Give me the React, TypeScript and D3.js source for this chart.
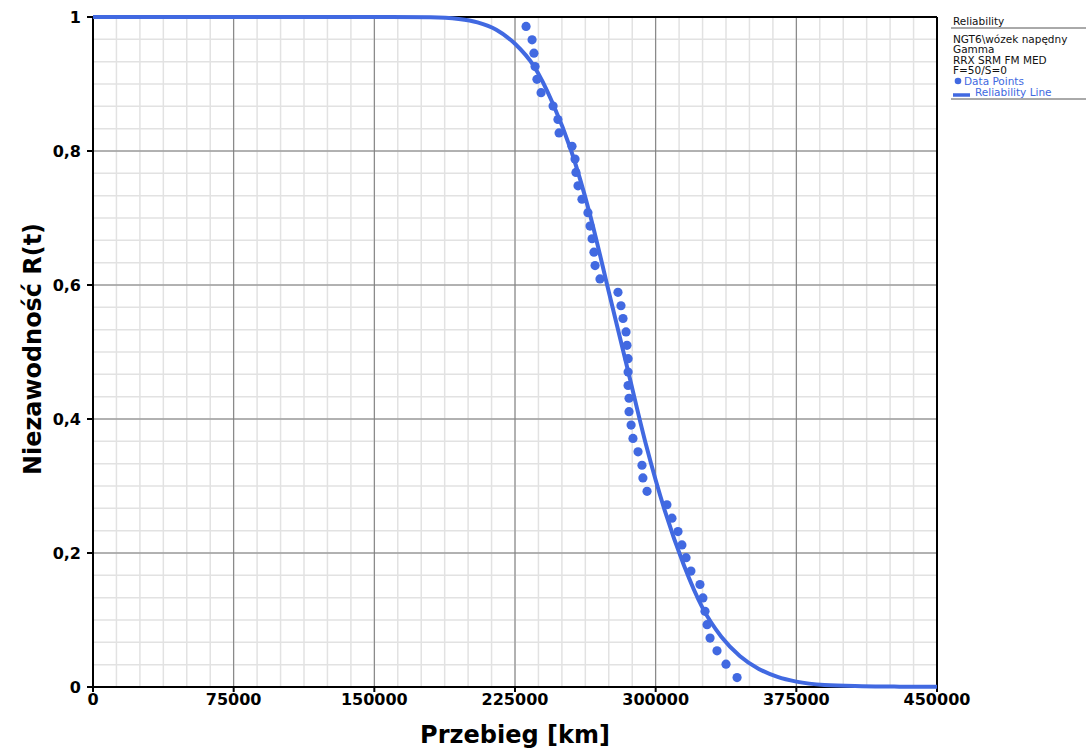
import React from 'react';
import * as d3 from 'd3';

// failure data points (km, median-rank reliability)
const pointKm = [
  230900, 234100, 235100, 235700, 236700, 238900, 245300, 247900, 248500, 255400,
  257000, 257500, 258600, 260700, 263900, 265000, 266100, 267100, 267700, 270300,
  279900, 281500, 282600, 284200, 284700, 285300, 285300, 285300, 285800, 285800,
  286900, 287900, 290600, 292700, 293200, 295400, 306000, 308700, 311900, 314000,
  316200, 318800, 323600, 325200, 326300, 327400, 329000, 332700, 337500, 343400,
];
const pointR = [
  0.986, 0.966, 0.946, 0.926, 0.907, 0.887, 0.867, 0.847, 0.827, 0.807,
  0.788, 0.768, 0.748, 0.728, 0.708, 0.688, 0.669, 0.649, 0.629, 0.609,
  0.589, 0.569, 0.550, 0.530, 0.510, 0.490, 0.470, 0.450, 0.431, 0.411,
  0.391, 0.371, 0.351, 0.331, 0.312, 0.292, 0.272, 0.252, 0.232, 0.212,
  0.193, 0.173, 0.153, 0.133, 0.113, 0.093, 0.073, 0.054, 0.034, 0.014,
];

// fitted reliability line
const lineKm = [
  0, 150000, 180000, 195000, 205000, 215000, 225000, 235000, 245000, 255000,
  265000, 275000, 285000, 295000, 305000, 315000, 325000, 335000, 345000, 355000,
  365000, 375000, 390000, 410000, 430000, 450000,
];
const lineR = [
  1, 1, 0.9995, 0.997, 0.992, 0.981, 0.96, 0.927, 0.872, 0.8,
  0.705, 0.59, 0.475, 0.36, 0.262, 0.182, 0.118, 0.075, 0.046, 0.027,
  0.015, 0.008, 0.003, 0.0012, 0.0005, 0.0002,
];

const xTicks = [0, 75000, 150000, 225000, 300000, 375000, 450000];
const yTicks = [0, 0.2, 0.4, 0.6, 0.8, 1];
const yTickLabels = ['0', '0,2', '0,4', '0,6', '0,8', '1'];
const legendLines = ['NGT6\\wózek napędny', 'Gamma', 'RRX SRM FM MED', 'F=50/S=0'];

const BLUE = '#4169e1';
const FONT = '"DejaVu Sans", Verdana, sans-serif';

export default function App() {
  const W = 1086, H = 749;
  const left = 93, right = 937, top = 17, bottom = 687;
  const x = d3.scaleLinear().domain([0, 450000]).range([left, right]);
  const y = d3.scaleLinear().domain([0, 1]).range([bottom, top]);

  const xMinor = d3.range(0, 450001, 12500);
  const yMinor = d3.range(0, 31).map(i => i / 30);

  const lineData = lineKm.map((k, i) => [k, lineR[i]] as [number, number]);
  const line = d3.line<[number, number]>()
    .x(d => x(d[0]))
    .y(d => y(d[1]))
    .curve(d3.curveMonotoneX);

  return (
    <svg width={W} height={H} style={{ position: 'absolute', left: 0, top: 0, background: '#fff' }}
      fontFamily={FONT}>
      {/* minor grid */}
      {xMinor.map(v => (
        <line key={'xm' + v} x1={x(v)} x2={x(v)} y1={top} y2={bottom} stroke="#e2e2e2" strokeWidth={1.5} />
      ))}
      {yMinor.map(v => (
        <line key={'ym' + v} x1={left} x2={right} y1={y(v)} y2={y(v)} stroke="#e2e2e2" strokeWidth={1.5} />
      ))}
      {/* major grid */}
      {xTicks.map(v => (
        <line key={'xg' + v} x1={x(v)} x2={x(v)} y1={top} y2={bottom} stroke="#7a7a7a" strokeWidth={1} />
      ))}
      {yTicks.map(v => (
        <line key={'yg' + v} x1={left} x2={right} y1={y(v)} y2={y(v)} stroke="#7a7a7a" strokeWidth={1} />
      ))}

      {/* frame */}
      <line x1={left} x2={right} y1={top} y2={top} stroke="#000" strokeWidth={2} />
      <line x1={right} x2={right} y1={top} y2={bottom} stroke="#000" strokeWidth={2} />
      <line x1={left} x2={left} y1={top - 1} y2={bottom + 1} stroke="#000" strokeWidth={2} />
      <line x1={left - 1} x2={right + 1} y1={bottom} y2={bottom} stroke="#000" strokeWidth={2} />

      {/* ticks */}
      {xTicks.map(v => (
        <g key={'xt' + v}>
          <line x1={x(v)} x2={x(v)} y1={bottom} y2={bottom + 5} stroke="#000" strokeWidth={2} />
          <text x={x(v)} y={705} textAnchor="middle" fontSize={16} fontWeight="bold">{v}</text>
        </g>
      ))}
      {yTicks.map((v, i) => (
        <g key={'yt' + v}>
          <line x1={left - 6} x2={left} y1={y(v)} y2={y(v)} stroke="#000" strokeWidth={2} />
          <text x={81} y={y(v) + 6} textAnchor="end" fontSize={16} fontWeight="bold">{yTickLabels[i]}</text>
        </g>
      ))}

      {/* reliability line */}
      <path d={line(lineData) || ''} fill="none" stroke={BLUE} strokeWidth={4} />
      {/* data points */}
      {pointKm.map((k, i) => (
        <circle key={'p' + i} cx={x(k)} cy={y(pointR[i])} r={4.6} fill={BLUE} />
      ))}

      {/* axis titles */}
      <text x={(left + right) / 2} y={743} textAnchor="middle" fontSize={24} fontWeight="bold">Przebieg [km]</text>
      <text transform="translate(41,349) rotate(-90)" textAnchor="middle" fontSize={24} fontWeight="bold"
        textLength={252} lengthAdjust="spacingAndGlyphs">Niezawodność R(t)</text>

      {/* legend */}
      <g fontSize={10.5}>
        <text x={953} y={25} fill="#111">Reliability</text>
        <line x1={951} x2={W} y1={28} y2={28} stroke="#555" strokeWidth={1} />
        {legendLines.map((t, i) => (
          <text key={t} x={953} y={42.5 + i * 10.6} fill="#111">{t}</text>
        ))}
        <circle cx={958} cy={81} r={3.3} fill={BLUE} />
        <text x={964} y={85} fill={BLUE}>Data Points</text>
        <line x1={953} x2={970} y1={95} y2={95} stroke={BLUE} strokeWidth={3.5} />
        <text x={975} y={96} fill={BLUE}>Reliability Line</text>
        <line x1={951} x2={W} y1={99} y2={99} stroke="#555" strokeWidth={1} />
      </g>
    </svg>
  );
}
